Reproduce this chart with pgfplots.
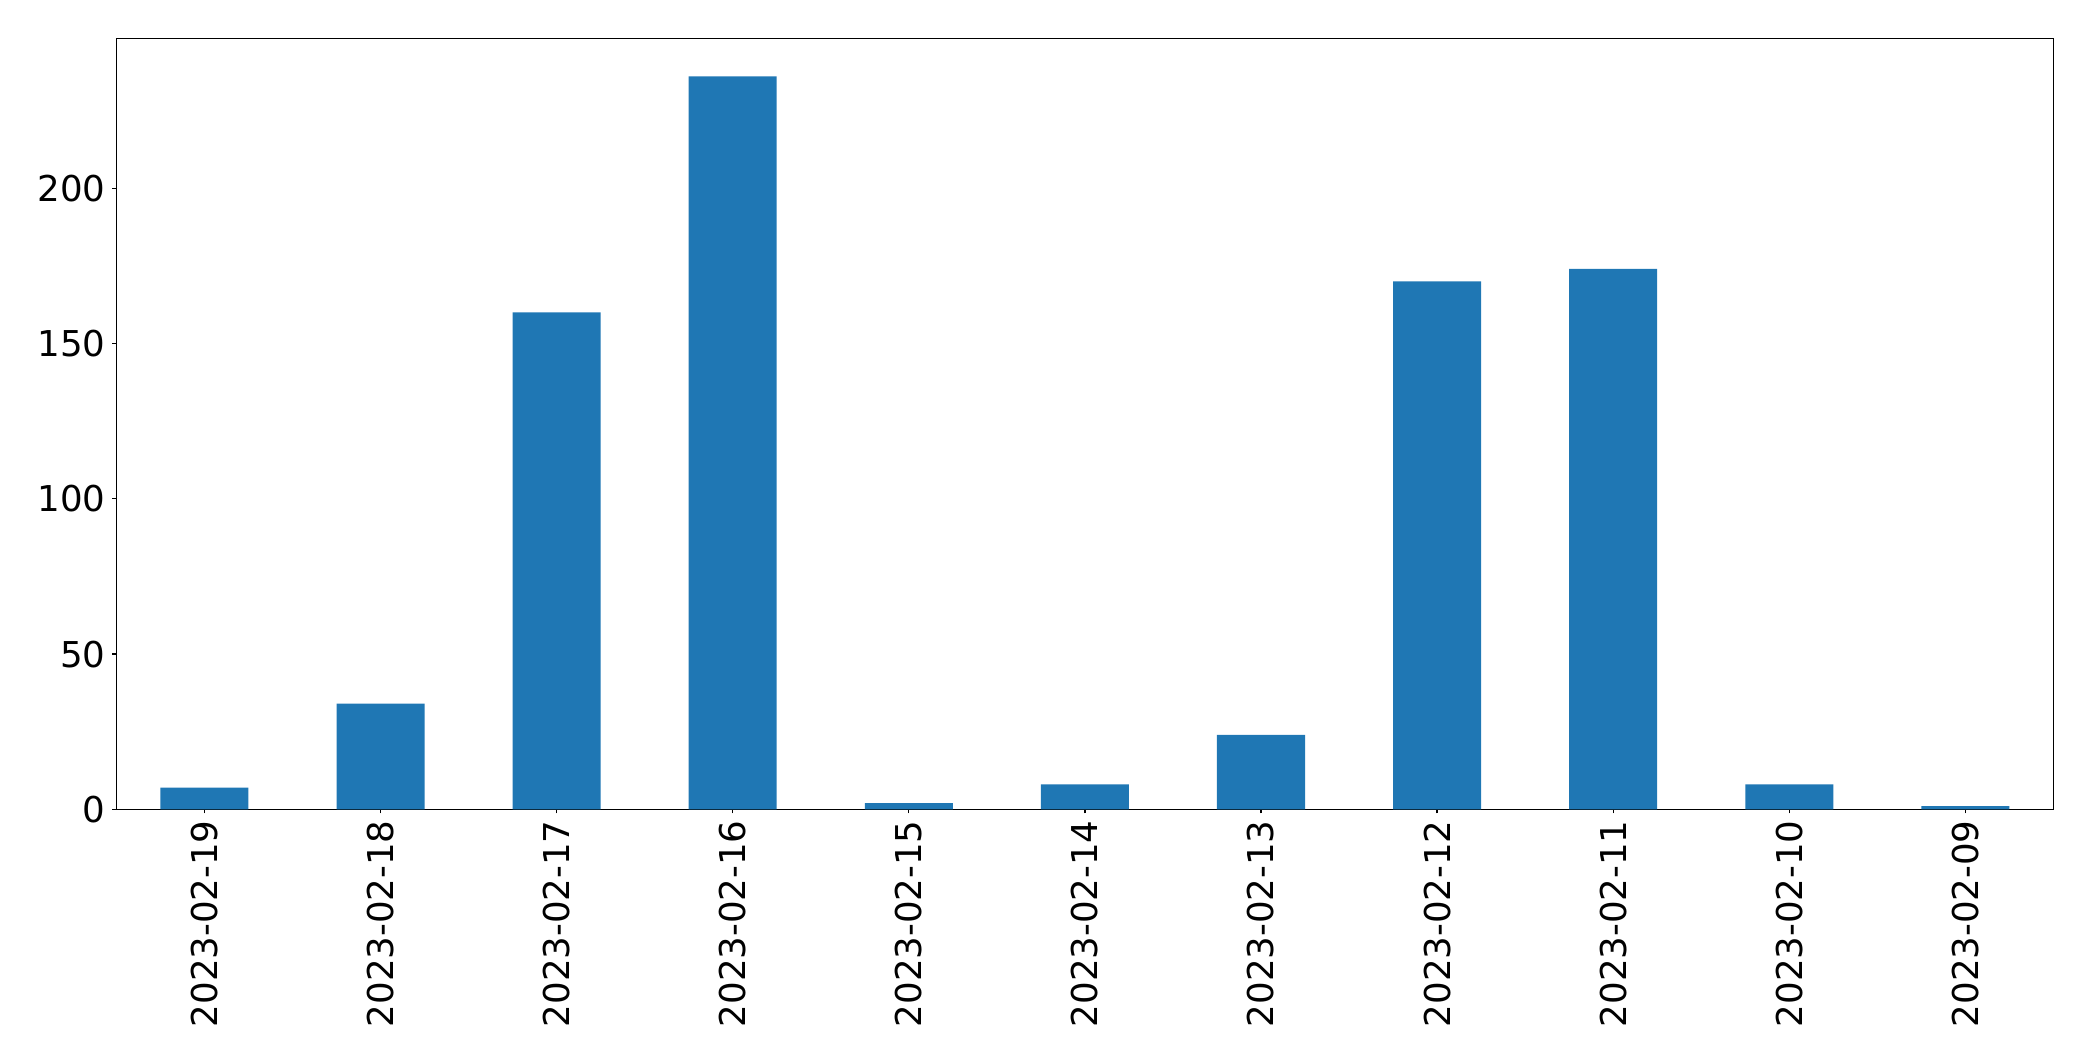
\documentclass[border=0pt]{standalone}
\usepackage{pgfplots}
\pgfplotsset{compat=1.18}
\usepackage{fontspec}
\setmainfont{DejaVu Sans}
\definecolor{barblue}{HTML}{1F77B4}
\begin{document}
\begin{tikzpicture}
\begin{axis}[
	scale only axis,
	width=968.5pt, height=385.2pt,
	xmin=-0.5, xmax=10.5,
	ymin=0, ymax=248.1,
	xtick={0,...,10},
	xticklabels={2023-02-19,2023-02-18,2023-02-17,2023-02-16,2023-02-15,2023-02-14,2023-02-13,2023-02-12,2023-02-11,2023-02-10,2023-02-09},
	ytick={0,50,100,150,200},
	xtick pos=lower, ytick pos=left,
	tick align=outside,
	major tick length=2pt,
	axis line style={line width=0.6pt},
	every tick/.style={black, line width=0.6pt},
	/pgf/number format/assume math mode=true,
	tick label style={font=\fontsize{17.8}{21}\selectfont},
	xticklabel style={rotate=90, anchor=east},
	]
	\addplot [ybar, bar width=0.5, fill=barblue, draw=none] coordinates {
		(0,7) (1,34) (2,160) (3,236) (4,2) (5,8)
		(6,24) (7,170) (8,174) (9,8) (10,1)
	};
\end{axis}
\path[use as bounding box] (current axis.south west) ++(-58.2pt,-125.85pt) rectangle ++(1046.5pt,530.5pt);
\end{tikzpicture}
\end{document}
